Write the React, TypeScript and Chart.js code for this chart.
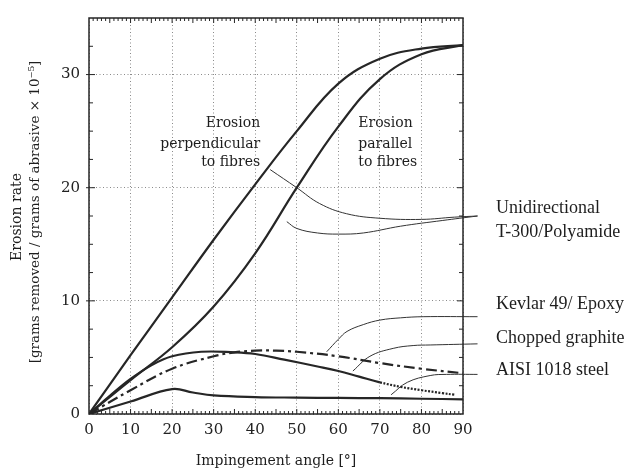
import React, { useEffect, useRef } from "react";
import { Chart, registerables } from "chart.js";
Chart.register(...registerables);

// ---- data ----
const angles = [0, 10, 20, 30, 40, 50, 60, 70, 80, 90];
const perpendicular = [0, 5.2, 10.3, 15.4, 20.3, 25.0, 29.2, 31.4, 32.3, 32.6];
const parallel = [0, 3.0, 5.9, 9.5, 14.2, 20.0, 25.4, 29.6, 31.8, 32.6];

const kevlarAngles = [0, 5, 10, 15, 20, 27, 35, 40, 47, 55, 60, 65, 70, 75, 80, 85, 88];
const kevlar = [0, 1.6, 3.1, 4.3, 5.1, 5.5, 5.45, 5.3, 4.8, 4.2, 3.8, 3.3, 2.8, 2.4, 2.1, 1.85, 1.7];

const choppedAngles = [0, 10, 20, 30, 35, 40, 45, 50, 60, 70, 80, 90];
const chopped = [0, 2.1, 4.0, 5.1, 5.45, 5.6, 5.6, 5.5, 5.1, 4.5, 4.0, 3.6];

const steelAngles = [0, 10, 20, 25, 30, 40, 50, 60, 70, 80, 90];
const steel = [0, 1.1, 2.2, 1.9, 1.65, 1.5, 1.45, 1.42, 1.4, 1.35, 1.3];

// leader (annotation) lines
const uniLeaderAx = [43.6, 50, 55.5, 62, 70, 80, 88, 93.5];
const uniLeaderAy = [21.6, 20.0, 18.6, 17.7, 17.3, 17.2, 17.4, 17.5];
const uniLeaderBx = [47.6, 50, 55, 60, 66, 75, 85, 93.5];
const uniLeaderBy = [17.0, 16.4, 16.0, 15.9, 16.0, 16.6, 17.1, 17.5];
const kevLeaderx = [57.2, 60, 62.1, 66, 70, 75, 80.4, 93.5];
const kevLeadery = [5.5, 6.6, 7.3, 7.9, 8.3, 8.5, 8.6, 8.6];
const chopLeaderx = [63.5, 67.6, 73.2, 78, 82.1, 93.5];
const chopLeadery = [3.8, 5.1, 5.8, 6.05, 6.1, 6.2];
const steelLeaderx = [72.7, 76.6, 82.1, 86, 93.5];
const steelLeadery = [1.7, 2.8, 3.4, 3.5, 3.5];

const xTicks = [0, 10, 20, 30, 40, 50, 60, 70, 80, 90];
const yTicks = [0, 10, 20, 30];

const perpLabel = ["Erosion", "perpendicular", "to fibres"];
const paraLabel = ["Erosion", "parallel", "to fibres"];
const uniLabel = ["Unidirectional", "T-300/Polyamide"];
const kevlarLabel = "Kevlar 49/ Epoxy";
const choppedLabel = "Chopped graphite";
const steelLabel = "AISI 1018 steel";
const xTitle = "Impingement angle [°]";
const yTitle1 = "Erosion rate";
const yTitle2 = "[grams removed / grams of abrasive × 10⁻⁵]";

const pts = (xs: number[], ys: number[]) => xs.map((x, i) => ({ x, y: ys[i] }));

const INK = "#262626";
const SERIF = "'DejaVu Serif', serif";
const TIMES = "'Liberation Serif', serif";

const decorPlugin = {
  id: "decor",
  afterDraw(chart: any) {
    const { ctx, chartArea: a, scales } = chart;
    const xs = scales.x;
    const ys = scales.y;
    ctx.save();
    // frame
    ctx.strokeStyle = INK;
    ctx.lineWidth = 1.5;
    ctx.strokeRect(a.left, a.top, a.right - a.left, a.bottom - a.top);
    // minor ticks
    ctx.lineWidth = 1;
    ctx.beginPath();
    for (let v = 1; v < 90; v++) {
      const px = xs.getPixelForValue(v);
      const len = v % 5 === 0 ? 5 : 3;
      ctx.moveTo(px, a.bottom);
      ctx.lineTo(px, a.bottom - len);
      ctx.moveTo(px, a.top);
      ctx.lineTo(px, a.top + len);
    }
    for (let v = 2.5; v < 35; v += 2.5) {
      const py = ys.getPixelForValue(v);
      const len = v % 10 === 0 ? 6 : 4;
      ctx.moveTo(a.left - (v % 10 === 0 ? 3 : 0), py);
      ctx.lineTo(a.left + len, py);
      ctx.moveTo(a.right, py);
      ctx.lineTo(a.right - len, py);
    }
    ctx.stroke();

    // annotation texts
    ctx.fillStyle = "#1e1e1e";
    ctx.textBaseline = "middle";
    ctx.font = `14px ${SERIF}`;
    ctx.textAlign = "right";
    const perpY = [25.65, 23.85, 22.2];
    perpLabel.forEach((t, i) => ctx.fillText(t, xs.getPixelForValue(41.2), ys.getPixelForValue(perpY[i])));
    ctx.textAlign = "left";
    paraLabel.forEach((t, i) => ctx.fillText(t, xs.getPixelForValue(64.8), ys.getPixelForValue(perpY[i])));

    ctx.font = `18px ${TIMES}`;
    const rx = a.right + 33;
    ctx.fillText(uniLabel[0], rx, ys.getPixelForValue(18.2));
    ctx.fillText(uniLabel[1], rx, ys.getPixelForValue(16.1));
    ctx.fillText(kevlarLabel, rx, ys.getPixelForValue(9.7));
    ctx.fillText(choppedLabel, rx, ys.getPixelForValue(6.67));
    ctx.fillText(steelLabel, rx, ys.getPixelForValue(3.9));

    // axis titles
    ctx.font = `14px ${SERIF}`;
    ctx.textAlign = "center";
    ctx.fillText(xTitle, (a.left + a.right) / 2, a.bottom + 47);
    ctx.save();
    ctx.translate(17, (a.top + a.bottom) / 2 + 1);
    ctx.rotate(-Math.PI / 2);
    ctx.fillText(yTitle1, 0, 0);
    ctx.restore();
    ctx.save();
    ctx.font = `13.5px ${SERIF}`;
    ctx.translate(35, (a.top + a.bottom) / 2 - 4);
    ctx.rotate(-Math.PI / 2);
    ctx.fillText(yTitle2, 0, 0);
    ctx.restore();
    ctx.restore();
  },
};

export default function App() {
  const ref = useRef<HTMLCanvasElement | null>(null);
  useEffect(() => {
    if (!ref.current) return;
    const main = {
      borderColor: INK,
      borderWidth: 2.2,
      pointRadius: 0,
      fill: false,
      tension: 0.4,
    };
    const leader = {
      borderColor: "#333",
      borderWidth: 1,
      pointRadius: 0,
      fill: false,
      clip: false as const,
      tension: 0.4,
    };
    const chart = new Chart(ref.current, {
      type: "line",
      data: {
        datasets: [
          { label: "Erosion perpendicular to fibres", data: pts(angles, perpendicular), ...main },
          { label: "Erosion parallel to fibres", data: pts(angles, parallel), ...main },
          {
            label: "Kevlar 49/ Epoxy",
            data: pts(kevlarAngles, kevlar),
            ...main,
            segment: {
              borderDash: (c: any) => (c.p0.parsed.x >= 70 ? [2, 1.5] : undefined),
            },
          },
          { label: "Chopped graphite", data: pts(choppedAngles, chopped), ...main, borderDash: [11, 4, 3, 4] },
          { label: "AISI 1018 steel", data: pts(steelAngles, steel), ...main },
          { label: "leader uni A", data: pts(uniLeaderAx, uniLeaderAy), ...leader },
          { label: "leader uni B", data: pts(uniLeaderBx, uniLeaderBy), ...leader },
          { label: "leader kevlar", data: pts(kevLeaderx, kevLeadery), ...leader },
          { label: "leader chopped", data: pts(chopLeaderx, chopLeadery), ...leader },
          { label: "leader steel", data: pts(steelLeaderx, steelLeadery), ...leader },
        ],
      },
      options: {
        responsive: false,
        animation: false,
        events: [],
        layout: { padding: { top: 10, right: 164, left: 0, bottom: 0 } },
        plugins: { legend: { display: false }, tooltip: { enabled: false } },
        scales: {
          x: {
            type: "linear",
            min: 0,
            max: 90,
            afterBuildTicks: (s: any) => {
              s.ticks = xTicks.map((v) => ({ value: v }));
            },
            afterFit: (s: any) => {
              s.height = 60;
            },
            ticks: { color: "#222", font: { family: SERIF, size: 15 }, padding: 7, maxRotation: 0 },
            grid: { color: "#8a8a8a", lineWidth: 1, drawTicks: false },
            border: { display: false, dash: [1, 2.5] },
          },
          y: {
            type: "linear",
            min: 0,
            max: 35,
            afterBuildTicks: (s: any) => {
              s.ticks = yTicks.map((v) => ({ value: v }));
            },
            afterFit: (s: any) => {
              s.width = 89;
            },
            ticks: { color: "#222", font: { family: SERIF, size: 15 }, padding: 9 },
            grid: { color: "#8a8a8a", lineWidth: 1, drawTicks: false },
            border: { display: false, dash: [1, 2.5] },
          },
        },
      },
      plugins: [decorPlugin],
    });
    return () => chart.destroy();
  }, []);
  return (
    <div style={{ position: "fixed", left: 0, top: 0, width: 627, height: 474, background: "#fff" }}>
      <canvas ref={ref} width={627} height={474} style={{ width: 627, height: 474 }} />
    </div>
  );
}
